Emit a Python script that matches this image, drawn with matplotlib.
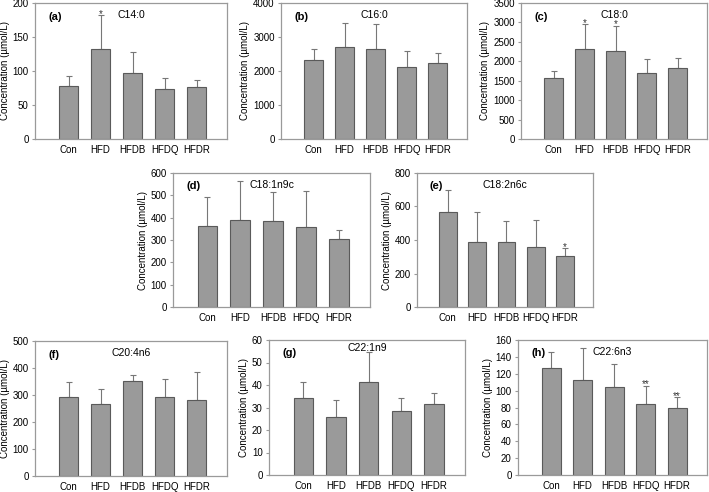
import matplotlib
matplotlib.use("Agg")
import matplotlib.pyplot as plt
import numpy as np

groups = ["Con", "HFD", "HFDB", "HFDQ", "HFDR"]

c14_mean = [78, 132, 97, 74, 76]
c14_err = [14, 50, 31, 15, 11]
c16_mean = [2310, 2700, 2640, 2110, 2230]
c16_err = [330, 720, 730, 490, 310]
c18_mean = [1580, 2310, 2260, 1700, 1830]
c18_err = [180, 650, 660, 370, 250]
c181_mean = [362, 388, 386, 358, 306]
c181_err = [131, 177, 129, 162, 41]
c182_mean = [570, 390, 387, 358, 305]
c182_err = [130, 175, 128, 162, 45]
c204_mean = [293, 266, 351, 293, 280]
c204_err = [54, 57, 24, 68, 104]
c221_mean = [34.3, 25.6, 41.3, 28.3, 31.5]
c221_err = [6.9, 7.7, 13.2, 5.8, 4.8]
c226_mean = [127, 113, 104, 84, 80]
c226_err = [19, 37, 28, 22, 12]

panels = [
    ("(a)", "C14:0", c14_mean, c14_err, 200, 50, ["", "*", "", "", ""]),
    ("(b)", "C16:0", c16_mean, c16_err, 4000, 1000, ["", "", "", "", ""]),
    ("(c)", "C18:0", c18_mean, c18_err, 3500, 500, ["", "*", "*", "", ""]),
    ("(d)", "C18:1n9c", c181_mean, c181_err, 600, 100, ["", "", "", "", ""]),
    ("(e)", "C18:2n6c", c182_mean, c182_err, 800, 200, ["", "", "", "", "*"]),
    ("(f)", "C20:4n6", c204_mean, c204_err, 500, 100, ["", "", "", "", ""]),
    ("(g)", "C22:1n9", c221_mean, c221_err, 60, 10, ["", "", "", "", ""]),
    ("(h)", "C22:6n3", c226_mean, c226_err, 160, 20, ["", "", "", "**", "**"]),
]

# pixel boxes: (x0, x1, ytop, ybottom)
boxes = [
    (35, 227, 3, 139),
    (281, 467, 3, 139),
    (521, 707, 3, 139),
    (173, 370, 173, 307),
    (417, 593, 173, 307),
    (35, 227, 341, 476),
    (269, 465, 340, 475),
    (518, 707, 340, 475),
]

W, H = 709, 492
fig = plt.figure(figsize=(W / 100, H / 100), dpi=100)
plt.rcParams["font.family"] = ["Liberation Sans", "DejaVu Sans"]

bar_face = "#9a9a9a"
bar_edge = "#5a5a5a"
spine_col = "#9a9a9a"

for (lab, name, mean, err, ymax, step, stars), (x0, x1, yt, yb) in zip(panels, boxes):
    ax = fig.add_axes([x0 / W, 1 - yb / H, (x1 - x0) / W, (yb - yt) / H])
    x = np.arange(len(groups))
    ax.bar(x, mean, width=0.6, color=bar_face, edgecolor=bar_edge, linewidth=0.8, zorder=2)
    ax.errorbar(x, mean, yerr=[np.zeros(len(mean)), err], fmt="none",
                ecolor="#777777", elinewidth=0.8, capsize=2, capthick=0.8, zorder=1)
    for xi, m, e, s in zip(x, mean, err, stars):
        if s:
            ax.annotate(s, (xi, m + e), xytext=(0, 1), textcoords="offset points",
                        ha="center", va="center", fontsize=7, color="#333333")
    ax.set_xlim(-1.05, 4.95)
    ax.set_ylim(0, ymax)
    ax.set_yticks(np.arange(0, ymax + step / 2, step))
    ax.set_xticks(x)
    ax.set_xticklabels(groups, fontsize=7)
    ax.tick_params(axis="x", length=0, pad=4)
    ax.tick_params(axis="y", labelsize=7, length=2.5, width=0.8, color=spine_col, pad=2)
    for sp in ax.spines.values():
        sp.set_color(spine_col)
        sp.set_linewidth(0.9)
    ax.set_ylabel("Concentration (µmol/L)", fontsize=7, labelpad=2)
    ax.text(0.07, 0.9, lab, transform=ax.transAxes, fontsize=8, fontweight="bold", va="center", ha="left")
    ty = 0.94 if lab == "(g)" else 0.91
    ax.text(0.5, ty, name, transform=ax.transAxes, fontsize=7.5, va="center", ha="center")

fig.savefig("out.png", dpi=100)
